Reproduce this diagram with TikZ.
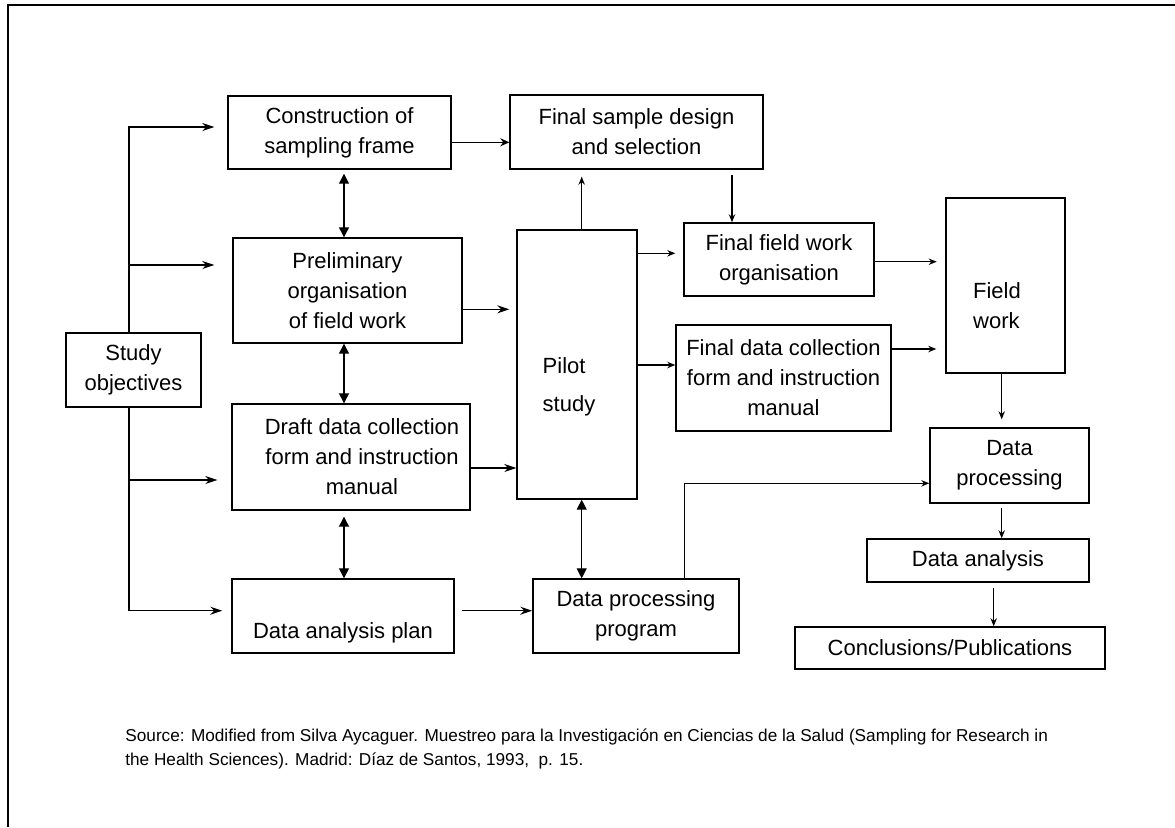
\documentclass[tikz,border=0pt]{standalone}
\usepackage{fontspec}
\setmainfont{Liberation Sans}
\usetikzlibrary{arrows.meta,positioning,calc}
\tikzset{
    >={Stealth[length=6pt,width=4pt]},
    stepbox/.style={
        rectangle,
        draw, line width=0.7pt,
        inner sep=0pt,
        align=center,
        font={\fontsize{11pt}{15pt}\selectfont}
    },
    boxtext/.style={
        inner sep=0pt,
        font={\fontsize{11pt}{15pt}\selectfont}
    },
    line/.style={draw, line width=0.6pt, ->},
    thinline/.style={draw, line width=0.6pt, -{Stealth[length=4pt,width=3.2pt]}},
    twoway/.style={draw, line width=0.6pt,
        {Triangle[length=5pt,width=5pt]}-{Triangle[length=5pt,width=5pt]}},
}
\begin{document}
\begin{tikzpicture}[x=0.5pt, y=-0.5pt]
\useasboundingbox (0,0) rectangle (1175,827);
\draw[line width=1.2pt] (8,827) -- (8,5) -- (1175,5);

% first column
\node (obj) at (133.5,370) [stepbox, minimum width=67.5pt, minimum height=37pt] {Study\\objectives};
\node (frame) at (339.5,132.5) [stepbox, minimum width=111.5pt, minimum height=36.5pt] {Construction of\\sampling frame};
\node (prelim) at (347.5,290.5) [stepbox, minimum width=114.5pt, minimum height=52.5pt] {Preliminary\\organisation\\of field work};
\node (draft) at (351,457) [stepbox, minimum width=119pt, minimum height=53pt] {\hspace*{11pt}Draft data collection\\\hspace*{11pt}form and instruction\\\hspace*{11pt}manual};
\node (plan) at (343,616) [stepbox, minimum width=111pt, minimum height=37pt] {};
\node (plantxt) at (343,633) [boxtext] {Data analysis plan};

% middle
\node (design) at (636.5,132) [stepbox, minimum width=126.5pt, minimum height=37pt] {Final sample design\\and selection};
\node (pilot) at (577,364.5) [stepbox, minimum width=60pt, minimum height=134.5pt] {};
\node (pilottxt) at (569,387) [boxtext, align=left] {Pilot\\[4pt]study};
\node (prog) at (636,616) [stepbox, minimum width=103pt, minimum height=37pt] {Data processing\\program};
\node (ffw) at (779,259.5) [stepbox, minimum width=95pt, minimum height=36.5pt] {Final field work\\organisation};
\node (fdc) at (783.5,378) [stepbox, minimum width=107.5pt, minimum height=53pt] {Final data collection\\form and instruction\\manual};

% right column
\node (field) at (1005.5,285.5) [stepbox, minimum width=59.5pt, minimum height=87.5pt] {};
\node (fieldtxt) at (997,306) [boxtext, align=left] {Field\\work};
\node (proc) at (1009.5,465.5) [stepbox, minimum width=79.5pt, minimum height=37.5pt] {Data\\processing};
\node (anal) at (978,560.5) [stepbox, minimum width=111pt, minimum height=21.5pt] {Data analysis};
\node (concl) at (950,648) [stepbox, minimum width=155pt, minimum height=21pt] {Conclusions/Publications};

\node (source) at (125,728) [anchor=north west, inner sep=0pt, align=left,
    font={\fontsize{8.6pt}{12.3pt}\selectfont}]
    {Source: Modified from Silva Aycaguer. Muestreo para la Investigación en Ciencias de la Salud (Sampling for Research in\\
     the Health Sciences). Madrid: Díaz de Santos, 1993,~~p. 15.};

% from the study objectives
\draw[line, shorten >=6.5pt] ([xshift=-2.25pt]obj.north) |- ([yshift=2.75pt]frame.west);
\draw[line, shorten >=9pt] ([xshift=-2.25pt]obj.north) |- ([yshift=12.75pt]prelim.west);
\draw[line, shorten >=7pt] ([xshift=-2.25pt]obj.south) |- ([yshift=-11.5pt]draft.west);
\draw[line, shorten >=4.5pt] ([xshift=-2.25pt]obj.south) |- ([yshift=2.65pt]plan.west);

\draw[twoway, shorten <=2pt] ([xshift=2.25pt]frame.south) -- ([xshift=2.25pt]frame.south |- prelim.north);
\draw[twoway] ([xshift=-1.75pt]prelim.south) -- ([xshift=-1.75pt]prelim.south |- draft.north);
\draw[twoway, shorten <=3pt] ([xshift=-3.5pt]draft.south) -- ([xshift=-3.5pt]draft.south |- plan.north);
\draw[twoway] ([xshift=2.35pt]pilot.south) -- ([xshift=2.35pt]pilot.south |- prog.north);

\draw[line, -{Stealth[length=4.5pt,width=4pt]}] ([yshift=-4.9pt]frame.east) -- ([yshift=-4.9pt]frame.east -| design.west);
\draw[line, shorten >=3.5pt] ([yshift=-9.4pt]prelim.east) -- ([yshift=-9.4pt]prelim.east -| pilot.west);
\draw[line] ([yshift=-5.5pt]draft.east) -- ([yshift=-5.5pt]draft.east -| pilot.west);
\draw[line, shorten <=3.85pt] ([yshift=2.65pt]plan.east) -- ([yshift=2.65pt]plan.east -| prog.west);

% pilot study onwards
\draw[thinline, shorten >=3.5pt] ([xshift=2.35pt]pilot.north) -- ([xshift=2.35pt]pilot.north |- design.south);
\draw[thinline, shorten <=2.5pt] ([xshift=47.75pt]design.south) -- ([xshift=47.75pt]design.south |- ffw.north);
\draw[thinline, shorten >=4pt] ([yshift=3.1pt]ffw.west -| pilot.east) -- ([yshift=3.1pt]ffw.west);
\draw[thinline] ([yshift=6.5pt]fdc.west -| pilot.east) -- ([yshift=6.5pt]fdc.west);
\draw[thinline, shorten >=4.3pt] ([yshift=-1.1pt]ffw.east) -- ([yshift=-1.1pt]ffw.east -| field.west);
\draw[thinline, shorten >=4.5pt] ([yshift=14.5pt]fdc.east) -- ([yshift=14.5pt]fdc.east -| field.west);
\draw[thinline, shorten >=4pt] ([xshift=-1.9pt]field.south) -- ([xshift=-1.9pt]field.south |- proc.north);
\draw[thinline] ([xshift=24.15pt]prog.north) |- ([yshift=-8.9pt]proc.west);
\draw[thinline, shorten <=2pt] ([xshift=-3.9pt]proc.south) -- ([xshift=-3.9pt]proc.south |- anal.north);
\draw[thinline, shorten <=2.4pt] ([xshift=7.85pt]anal.south) -- ([xshift=7.85pt]anal.south |- concl.north);
\end{tikzpicture}
\end{document}
